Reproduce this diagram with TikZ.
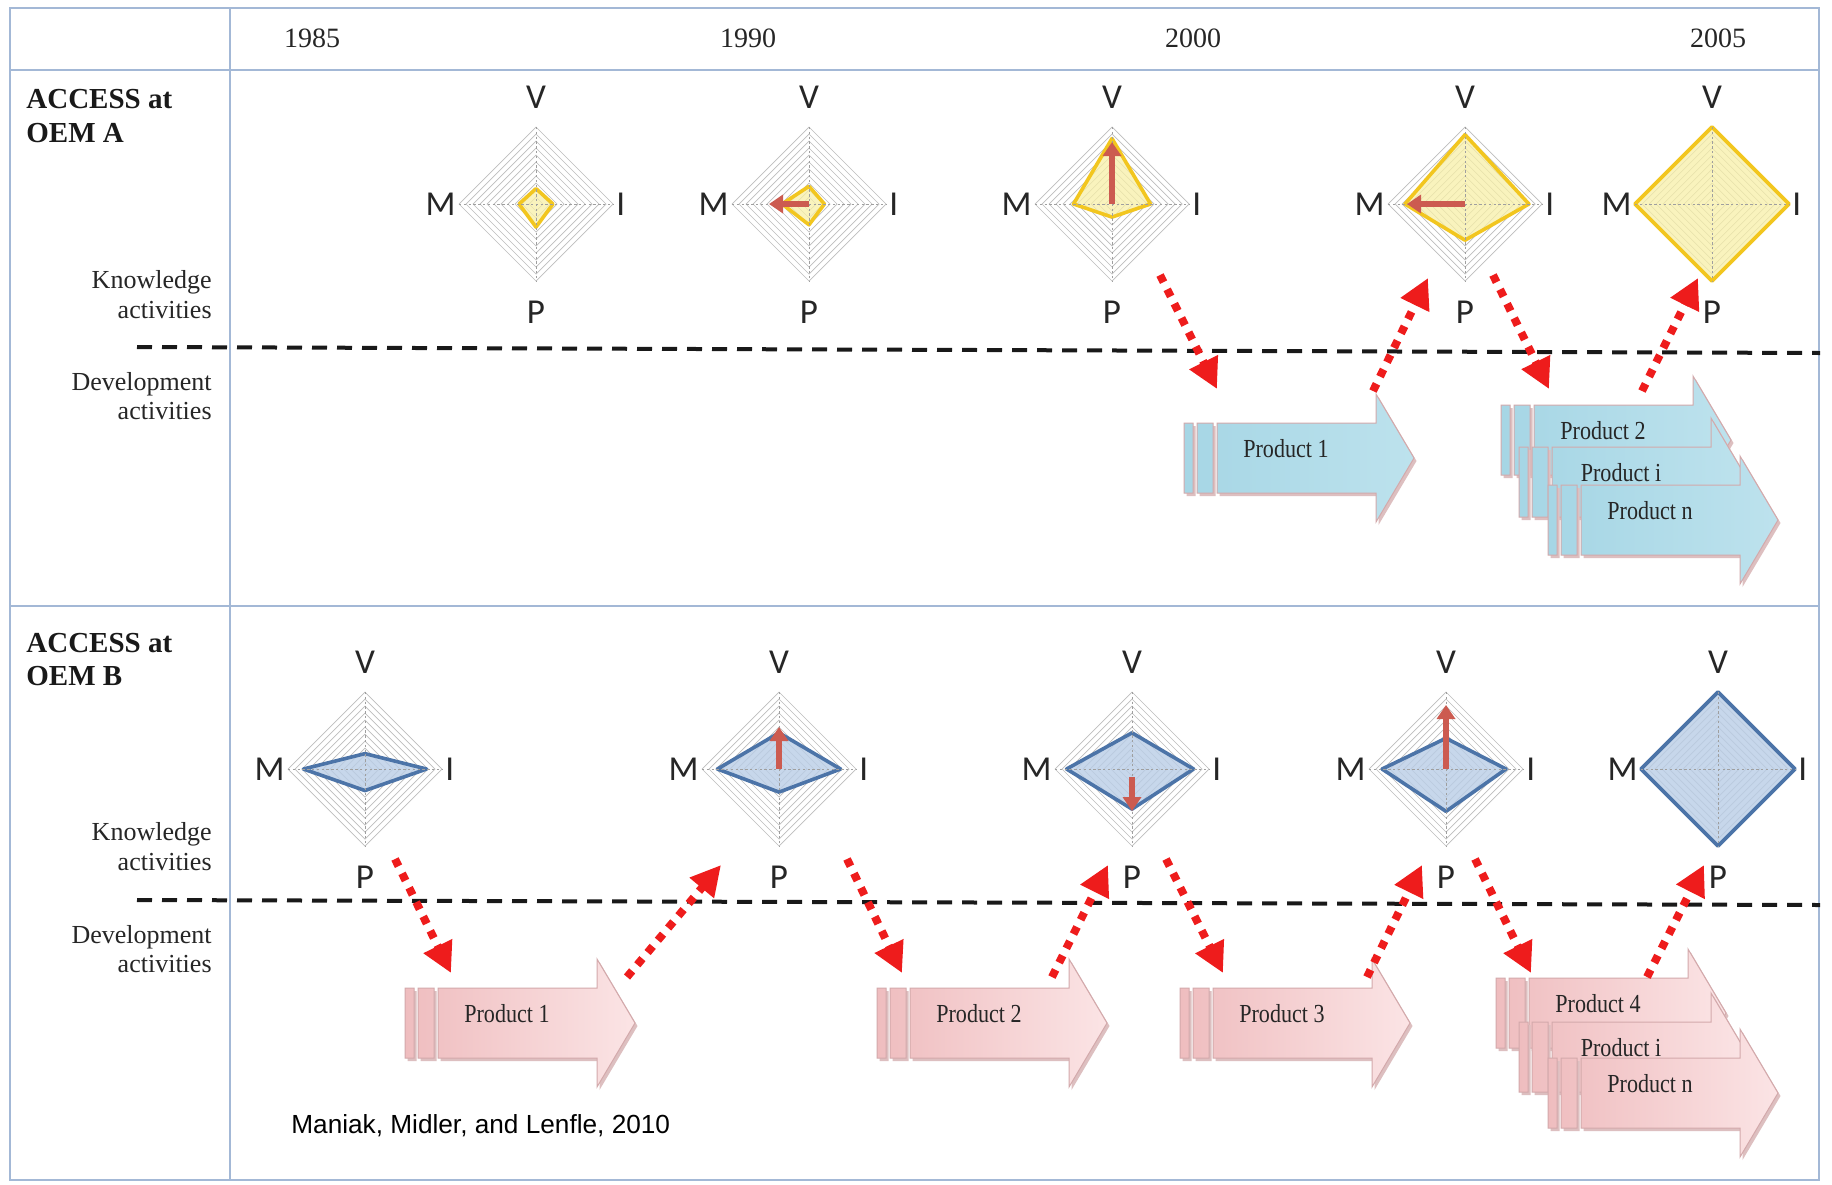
\documentclass[tikz,border=0pt]{standalone}
\usepackage{fontspec}
\setmainfont{Liberation Serif}
\newfontfamily\axfont{Carlito}
\newfontfamily\citefont{Liberation Sans}
\newfontfamily\prodfont[FakeStretch=0.85]{Liberation Serif}
\usetikzlibrary{arrows.meta}

\definecolor{tblline}{HTML}{A3B8D6}
\definecolor{gridgray}{HTML}{BDBDBD}
\definecolor{yfill}{HTML}{F8F0A8}
\definecolor{yline}{HTML}{F2C61F}
\definecolor{bfill}{HTML}{B9CDE6}
\definecolor{bline}{HTML}{4C74A8}
\definecolor{inarrow}{HTML}{CC5B50}
\definecolor{dotred}{HTML}{EE1C1C}
\definecolor{blueA}{HTML}{A6D6E5}
\definecolor{blueA2}{HTML}{BDE2ED}
\definecolor{pinkB}{HTML}{EFBDBF}
\definecolor{pinkB2}{HTML}{FBE4E5}
\definecolor{arredge}{HTML}{D3A9AB}
\definecolor{shadowc}{HTML}{DDBFC0}

\tikzset{
  tbl/.style={draw=tblline, line width=1pt},
  gridln/.style={draw=gridgray, line width=0.35pt},
  axisln/.style={draw=gray!75, line width=0.5pt, dash pattern=on 1.2pt off 1.2pt},
  ypoly/.style={fill=yfill, fill opacity=0.75, draw=yline, line width=1.8pt, line join=round},
  bpoly/.style={fill=bfill, fill opacity=0.8, draw=bline, line width=1.8pt, line join=round},
  axl/.style={font=\axfont\fontsize{17.5}{20}\selectfont, inner sep=0pt, text=black!85},
  inarr/.style={draw=inarrow, line width=2.6pt, -{Triangle[length=7pt,width=9pt]}},
  dotarr/.style={draw=dotred, line width=4pt, dash pattern=on 4pt off 4pt, -{Triangle[length=15pt,width=15pt]}},
  sepline/.style={draw=black!90, line width=2pt, dash pattern=on 7.5pt off 5pt},
  year/.style={font=\fontsize{14}{16}\selectfont, anchor=base, inner sep=0pt, text=black!85},
  rowhead/.style={font=\bfseries\fontsize{14.5}{17}\selectfont, anchor=base west, inner sep=0pt, text=black!90},
  actlbl/.style={font=\fontsize{13}{15}\selectfont, anchor=base east, inner sep=0pt, text=black!85},
  prodtxt/.style={font=\prodfont\fontsize{13}{15}\selectfont, inner sep=0pt, text=black!85},
  blueshape/.style={left color=blueA, right color=blueA2, draw=arredge, line width=0.5pt},
  pinkshape/.style={left color=pinkB, right color=pinkB2, draw=arredge, line width=0.5pt},
  citetxt/.style={font=\citefont\fontsize{13.1}{15}\selectfont, anchor=base west, inner sep=0pt},
}

\newcommand{\radar}[8]{%
 \begin{scope}[shift={(#2,#3)}]
  \coordinate (#1) at (0,0);
  \foreach \k in {1,...,11}{\draw[gridln] (0,{-7*\k}) -- ({7*\k},0) -- (0,{7*\k}) -- ({-7*\k},0) -- cycle;}
  \path[#8] (0,{-77*#4}) -- ({77*#5},0) -- (0,{77*#6}) -- ({-77*#7},0) -- cycle;
  \draw[axisln] (-77,0) -- (77,0) (0,-77) -- (0,77);
  \node[axl, anchor=south] (#1V) at (0,-95) {V};
  \node[axl, anchor=north] (#1P) at (0,97) {P};
  \node[axl, anchor=east] (#1M) at (-80,0) {M};
  \node[axl, anchor=west] (#1I) at (80,0) {I};
 \end{scope}}

\newcommand{\prodshape}[1]{\path[#1] (0,-35) rectangle (9,35) (13,-35) rectangle (29,35) (33,-35) -- (192,-35) -- (192,-64) -- (230,0) -- (192,64) -- (192,35) -- (33,35) -- cycle;}

\newcommand{\prodarrow}[5]{%
 \begin{scope}[shift={(#2,#3)}]
  \prodshape{fill=shadowc, shift={(2.5,3)}}
  \prodshape{#5}
  \node[prodtxt] (#1) at (102,-9) {#4};
 \end{scope}}

\begin{document}
\begin{tikzpicture}[x=0.5pt, y=-0.5pt]
\useasboundingbox (0,0) rectangle (1832,1184);
\fill[white] (0,0) rectangle (1832,1184);

% table
\draw[tbl] (10,8) rectangle (1819,1180);
\draw[tbl, line width=1.2pt] (10,70) -- (1819,70);
\draw[tbl] (230,8) -- (230,1180);
\draw[tbl, line width=1.2pt] (10,606) -- (1819,606);

% years
\node[year] (y1985) at (312,47) {1985};
\node[year] (y1990) at (748,47) {1990};
\node[year] (y2000) at (1193,47) {2000};
\node[year] (y2005) at (1718,47) {2005};

% row headings
\node[rowhead] (ha1) at (26,108) {ACCESS at};
\node[rowhead] (ha2) at (26,142) {OEM A};
\node[rowhead] (hb1) at (26,652) {ACCESS at};
\node[rowhead] (hb2) at (26,685) {OEM B};

\node[actlbl] (ka1) at (212,288) {Knowledge};
\node[actlbl] (ka2) at (212,318) {activities};
\node[actlbl] (da1) at (212,390) {Development};
\node[actlbl] (da2) at (212,419) {activities};
\node[actlbl] (kb1) at (212,840) {Knowledge};
\node[actlbl] (kb2) at (212,870) {activities};
\node[actlbl] (db1) at (212,943) {Development};
\node[actlbl] (db2) at (212,972) {activities};

% separation lines
\coordinate (sa1) at (137,347);
\coordinate (sa2) at (1820,353);
\coordinate (sb1) at (137,900);
\coordinate (sb2) at (1820,905);
\draw[sepline] (sa1) -- (sa2);
\draw[sepline] (sb1) -- (sb2);

% radar charts OEM A
\radar{ra1}{536}{204}{0.2}{0.22}{0.3}{0.22}{ypoly}
\radar{ra2}{809}{204}{0.23}{0.2}{0.27}{0.35}{ypoly}
\radar{ra3}{1112}{204}{0.85}{0.5}{0.17}{0.5}{ypoly}
\radar{ra4}{1465}{204}{0.9}{0.83}{0.47}{0.78}{ypoly}
\radar{ra5}{1712}{204}{1}{1}{1}{1}{ypoly}
\draw[inarr] (ra2) -- ++(-40,0);
\draw[inarr] (ra3) -- ++(0,-62);
\draw[inarr] (ra4) -- ++(-58,0);

% radar charts OEM B
\radar{rb1}{365}{769}{0.2}{0.8}{0.28}{0.8}{bpoly}
\radar{rb2}{779}{769}{0.47}{0.8}{0.3}{0.8}{bpoly}
\radar{rb3}{1132}{769}{0.47}{0.8}{0.52}{0.85}{bpoly}
\radar{rb4}{1446}{769}{0.4}{0.78}{0.55}{0.83}{bpoly}
\radar{rb5}{1718}{769}{1}{1}{1}{1}{bpoly}
\draw[inarr] (rb2) -- ++(0,-42);
\draw[inarr] ([yshift=-4pt]rb3) -- ++(0,34);
\draw[inarr] (rb4) -- ++(0,-64);

% product arrows OEM A
\prodarrow{pa1}{1184}{458}{Product 1}{blueshape}
\prodarrow{pa2}{1501}{440}{Product 2}{blueshape}
\prodarrow{pai}{1519}{482}{Product i}{blueshape}
\prodarrow{pan}{1548}{520}{Product n}{blueshape}

% product arrows OEM B
\prodarrow{pb1}{405}{1023}{Product 1}{pinkshape}
\prodarrow{pb2}{877}{1023}{Product 2}{pinkshape}
\prodarrow{pb3}{1180}{1023}{Product 3}{pinkshape}
\prodarrow{pb4}{1496}{1013}{Product 4}{pinkshape}
\prodarrow{pbi}{1519}{1057}{Product i}{pinkshape}
\prodarrow{pbn}{1548}{1093}{Product n}{pinkshape}

% dotted red arrows OEM A
\coordinate (da1s) at (1160,275); \coordinate (da1e) at (1217,389);
\coordinate (da2s) at (1373,391); \coordinate (da2e) at (1428,278);
\coordinate (da3s) at (1493,275); \coordinate (da3e) at (1549,389);
\coordinate (da4s) at (1642,391); \coordinate (da4e) at (1698,278);
\draw[dotarr] (da1s) -- (da1e);
\draw[dotarr] (da2s) -- (da2e);
\draw[dotarr] (da3s) -- (da3e);
\draw[dotarr] (da4s) -- (da4e);

% dotted red arrows OEM B
\coordinate (db1s) at (395,859);  \coordinate (db1e) at (451,973);
\coordinate (db2s) at (627,977);  \coordinate (db2e) at (721,865);
\coordinate (db3s) at (847,859);  \coordinate (db3e) at (902,973);
\coordinate (db4s) at (1052,977); \coordinate (db4e) at (1108,865);
\coordinate (db5s) at (1166,859); \coordinate (db5e) at (1223,973);
\coordinate (db6s) at (1367,977); \coordinate (db6e) at (1422,865);
\coordinate (db7s) at (1475,859); \coordinate (db7e) at (1531,973);
\coordinate (db8s) at (1647,977); \coordinate (db8e) at (1704,865);
\foreach \i in {1,...,8}{\draw[dotarr] (db\i s) -- (db\i e);}

% citation
\node[citetxt] (cite) at (291,1133) {Maniak, Midler, and Lenfle, 2010};
\end{tikzpicture}
\end{document}
